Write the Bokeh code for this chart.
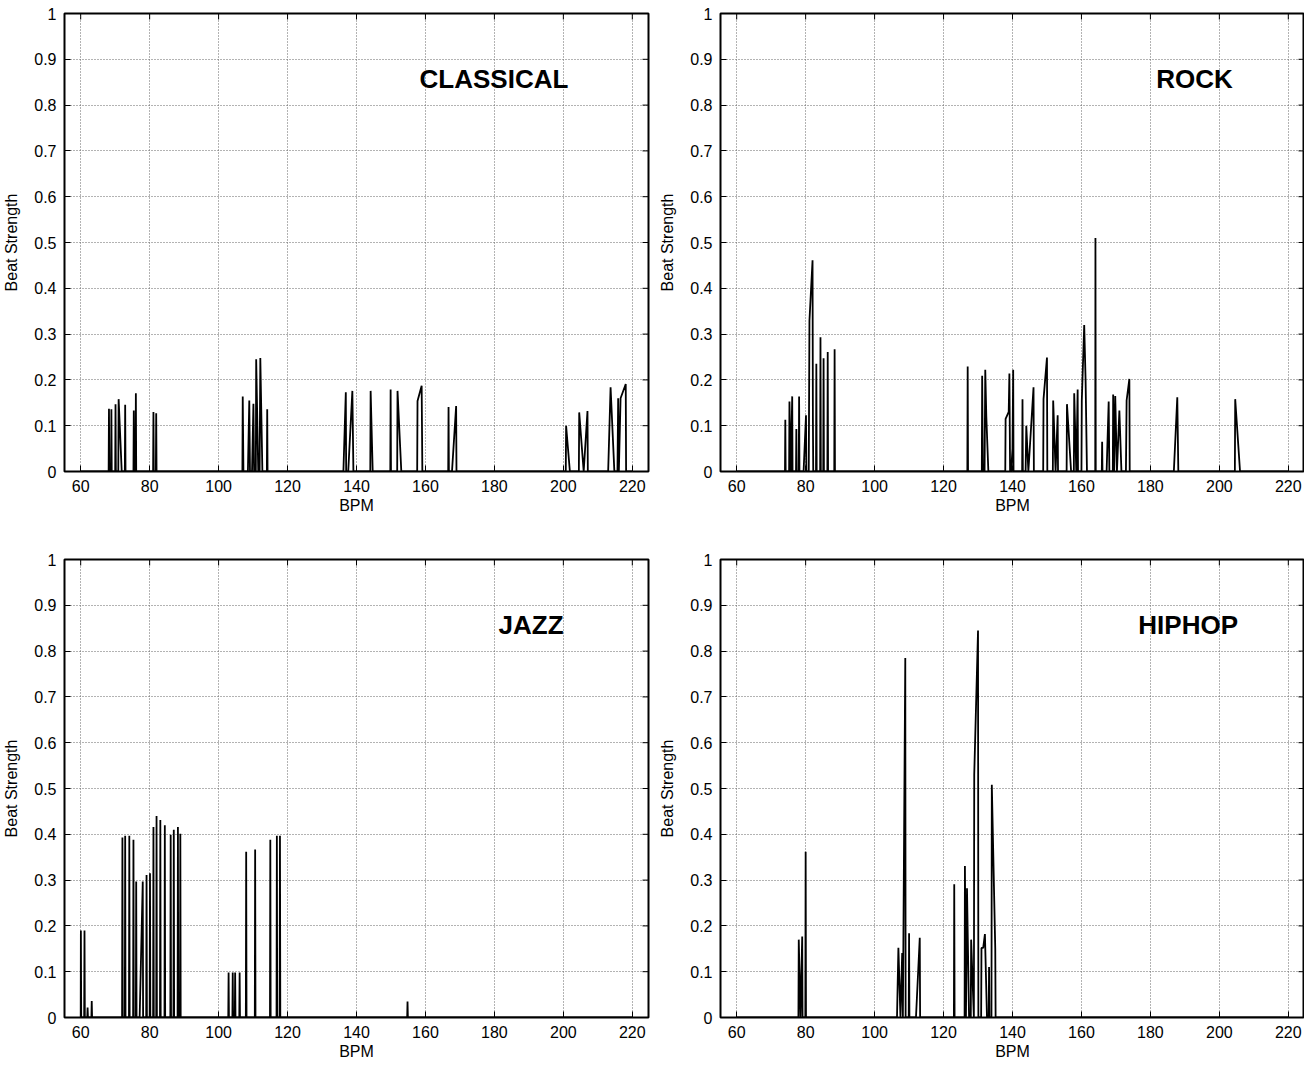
import math
from bokeh.plotting import figure
from bokeh.layouts import row, column
from bokeh.models import FixedTicker, Label, Range1d
from bokeh.embed import file_html
from bokeh.resources import INLINE

# ---------------- data ----------------
bpm_ticks = [60, 80, 100, 120, 140, 160, 180, 200, 220]
strength_ticks = [0.0, 0.1, 0.2, 0.3, 0.4, 0.5, 0.6, 0.7, 0.8, 0.9, 1.0]
strength_tick_labels = ["0", "0.1", "0.2", "0.3", "0.4", "0.5", "0.6", "0.7", "0.8", "0.9", "1"]

genres = ["CLASSICAL", "ROCK", "JAZZ", "HIPHOP"]

classical_bpm = [
    60.0,
    68.1, 68.2, 68.3, 68.8, 68.9, 69.0, 70.0, 70.1, 70.2, 70.9, 71.0, 71.9,
    72.8, 72.9, 73.0, 75.3, 75.4, 75.5, 75.9, 76.0, 76.1,
    81.0, 81.1, 81.2, 81.8, 81.9, 82.0,
    106.9, 107.0, 107.2, 108.5, 108.9, 109.1, 109.7, 110.1, 110.3,
    110.8, 110.9, 111.5, 111.9, 112.1, 112.7, 114.0, 114.1, 114.2,
    136.2, 136.9, 137.0, 137.6, 138.8, 139.1, 144.0, 144.1, 144.7,
    149.8, 149.9, 150.0, 151.8, 151.9, 153.0, 157.6, 157.7, 158.9, 159.1,
    166.6, 166.7, 166.8, 167.7, 168.9, 169.0,
    200.7, 200.8, 201.9, 204.5, 204.6, 205.9, 207.0, 207.1,
    213.0, 213.7, 214.8, 215.7, 215.9, 216.1, 216.6, 218.1, 218.2,
    220.0,
]
classical_strength = [
    0.0,
    0.0, 0.137, 0.0, 0.0, 0.136, 0.0, 0.0, 0.147, 0.0, 0.0, 0.158, 0.0,
    0.0, 0.146, 0.0, 0.0, 0.133, 0.0, 0.0, 0.171, 0.0,
    0.0, 0.130, 0.0, 0.0, 0.127, 0.0,
    0.0, 0.164, 0.0, 0.0, 0.155, 0.0, 0.0, 0.148, 0.0,
    0.0, 0.245, 0.0, 0.0, 0.248, 0.0, 0.0, 0.136, 0.0,
    0.0, 0.173, 0.0, 0.0, 0.176, 0.0, 0.0, 0.176, 0.0,
    0.0, 0.179, 0.0, 0.0, 0.176, 0.0, 0.0, 0.154, 0.187, 0.0,
    0.0, 0.141, 0.0, 0.0, 0.143, 0.0,
    0.0, 0.100, 0.0, 0.0, 0.129, 0.0, 0.132, 0.0,
    0.0, 0.184, 0.0, 0.0, 0.160, 0.0, 0.160, 0.191, 0.0,
    0.0,
]

rock_bpm = [
    60.0,
    74.0, 74.1, 74.2, 75.2, 75.3, 75.7, 76.1, 76.2, 77.2, 77.3, 77.4,
    78.0, 78.1, 78.2, 79.4, 80.1, 80.2, 80.9, 81.1, 82.0, 82.1, 82.2,
    83.0, 83.1, 83.2, 84.2, 84.3, 84.4, 85.1, 85.2, 85.3,
    86.3, 86.4, 86.5, 88.3, 88.4, 88.5,
    126.9, 127.0, 127.1, 131.1, 131.2, 131.4, 131.9, 132.1, 132.4, 133.0,
    137.9, 138.0, 138.9, 139.1, 139.3, 139.6, 140.0, 140.2, 140.3,
    142.8, 142.9, 143.0, 143.8, 144.0, 144.6, 146.1, 146.2,
    148.9, 149.0, 150.0, 150.1, 151.7, 151.8, 152.5, 153.1, 153.2,
    155.7, 155.8, 157.0, 157.8, 157.9, 158.5, 158.9, 159.0,
    160.0, 160.1, 160.8, 161.2, 161.6, 164.0, 164.06, 164.15,
    165.9, 166.0, 166.1, 167.3, 167.9, 168.1,
    169.1, 169.2, 169.5, 169.8, 170.3, 171.0, 171.6,
    172.9, 173.1, 173.9, 174.0, 186.8, 187.8, 188.1, 204.5, 204.6, 206.0,
    220.0,
]
rock_strength = [
    0.0,
    0.0, 0.113, 0.0, 0.0, 0.153, 0.0, 0.164, 0.0, 0.0, 0.093, 0.0,
    0.0, 0.164, 0.0, 0.0, 0.123, 0.0, 0.0, 0.329, 0.461, 0.120, 0.0,
    0.0, 0.235, 0.0, 0.0, 0.293, 0.0, 0.0, 0.247, 0.0,
    0.0, 0.261, 0.0, 0.0, 0.267, 0.0,
    0.0, 0.229, 0.0, 0.0, 0.209, 0.0, 0.0, 0.222, 0.121, 0.0,
    0.0, 0.115, 0.130, 0.214, 0.0, 0.0, 0.050, 0.222, 0.0,
    0.0, 0.158, 0.0, 0.0, 0.100, 0.0, 0.184, 0.0,
    0.0, 0.158, 0.249, 0.0, 0.0, 0.155, 0.0, 0.123, 0.0,
    0.0, 0.147, 0.0, 0.0, 0.171, 0.0, 0.179, 0.0,
    0.0, 0.154, 0.320, 0.200, 0.0, 0.0, 0.510, 0.0,
    0.0, 0.065, 0.0, 0.0, 0.153, 0.0,
    0.0, 0.168, 0.0, 0.165, 0.0, 0.133, 0.0,
    0.0, 0.155, 0.202, 0.0, 0.0, 0.162, 0.0, 0.0, 0.158, 0.0,
    0.0,
]

jazz_bpm = [
    60.0, 60.05, 60.15, 61.0, 61.1, 61.2, 61.9, 62.0, 62.1, 63.1, 63.2, 63.3,
    72.0, 72.1, 72.2, 72.8, 72.9, 73.0, 74.0, 74.1, 74.2, 75.2, 75.3, 75.4,
    76.0, 76.1, 76.2, 77.1, 78.0, 78.1, 79.0, 79.1, 79.2, 80.0, 80.1, 80.2,
    81.0, 81.1, 81.2, 81.9, 82.0, 82.1, 83.0, 83.1, 83.2, 84.3, 84.4, 84.5,
    86.0, 86.1, 86.2, 86.9, 87.0, 87.1, 88.1, 88.2, 88.3, 88.8, 88.9, 89.0,
    102.8, 102.9, 103.0, 104.0, 104.1, 104.2, 104.7, 104.8, 104.9, 106.0, 106.1, 106.2,
    107.9, 108.0, 108.1, 110.5, 110.6, 110.7,
    114.9, 115.0, 115.1, 116.8, 116.9, 117.0, 117.7, 117.8, 117.9,
    154.7, 154.8, 154.9,
    220.0,
]
jazz_strength = [
    0.0, 0.190, 0.0, 0.0, 0.190, 0.0, 0.0, 0.022, 0.0, 0.0, 0.036, 0.0,
    0.0, 0.393, 0.0, 0.0, 0.397, 0.0, 0.0, 0.397, 0.0, 0.0, 0.388, 0.0,
    0.0, 0.297, 0.0, 0.0, 0.297, 0.0, 0.0, 0.311, 0.0, 0.0, 0.315, 0.0,
    0.0, 0.416, 0.0, 0.0, 0.440, 0.0, 0.0, 0.431, 0.0, 0.0, 0.420, 0.0,
    0.0, 0.399, 0.0, 0.0, 0.410, 0.0, 0.0, 0.416, 0.0, 0.0, 0.401, 0.0,
    0.0, 0.098, 0.0, 0.0, 0.098, 0.0, 0.0, 0.098, 0.0, 0.0, 0.098, 0.0,
    0.0, 0.362, 0.0, 0.0, 0.367, 0.0,
    0.0, 0.388, 0.0, 0.0, 0.397, 0.0, 0.0, 0.397, 0.0,
    0.0, 0.035, 0.0,
    0.0,
]

hiphop_bpm = [
    60.0,
    77.9, 78.0, 78.5, 79.0, 79.1, 79.9, 80.0, 80.1,
    106.5, 106.9, 107.5, 108.0, 108.2, 108.9, 109.0, 109.9, 110.0, 110.1,
    112.0, 113.1, 113.2, 123.0, 123.1, 123.2,
    126.1, 126.2, 126.5, 126.8, 127.4, 127.9, 128.0, 128.8, 128.9, 130.0, 130.1,
    130.9, 131.0, 131.5, 132.0, 132.6, 133.1, 133.2, 133.3,
    133.9, 134.0, 135.0, 135.1,
    220.0,
]
hiphop_strength = [
    0.0,
    0.0, 0.170, 0.0, 0.177, 0.0, 0.0, 0.362, 0.0,
    0.0, 0.152, 0.0, 0.141, 0.0, 0.785, 0.0, 0.0, 0.184, 0.0,
    0.0, 0.174, 0.0, 0.0, 0.291, 0.0,
    0.0, 0.331, 0.0, 0.282, 0.0, 0.0, 0.170, 0.0, 0.530, 0.845, 0.0,
    0.0, 0.152, 0.152, 0.182, 0.0, 0.0, 0.110, 0.0,
    0.0, 0.508, 0.150, 0.0,
    0.0,
]

# ---------------- styling / layout ----------------
FONT = "Liberation Sans"
X_MIN, X_MAX = 55.3, 224.7
Y_MIN, Y_MAX = 0.0, 1.0


def style_axis(ax, ticker):
    ax.ticker = FixedTicker(ticks=ticker)
    ax.major_tick_in = 6
    ax.major_tick_out = 0
    ax.major_tick_line_color = "black"
    ax.major_tick_line_width = 1
    ax.minor_tick_line_color = None
    ax.axis_line_color = None
    ax.major_label_text_font = FONT
    ax.major_label_text_color = "black"
    ax.major_label_text_font_size = "16px"
    ax.axis_label_text_font = FONT
    ax.axis_label_text_font_style = "normal"
    ax.axis_label_text_color = "black"
    ax.axis_label_text_font_size = "16px"


def make_plot(xs, ys, title, title_x, fw, fh, left, right, top, bottom):
    p = figure(frame_width=fw, frame_height=fh,
               x_range=Range1d(X_MIN, X_MAX), y_range=Range1d(Y_MIN, Y_MAX),
               output_backend="svg", toolbar_location=None,
               min_border_left=left, min_border_right=right,
               min_border_top=top, min_border_bottom=bottom)
    p.background_fill_color = "white"
    p.border_fill_color = "white"
    p.outline_line_color = "black"
    p.outline_line_width = 2

    for g, tk in ((p.xgrid[0], bpm_ticks), (p.ygrid[0], strength_ticks)):
        g.ticker = FixedTicker(ticks=tk)
        g.grid_line_color = "#666666"
        g.grid_line_dash = "1 2"
        g.grid_line_width = 1

    p.line(xs, ys, line_color="black", line_width=1.8)

    # mirrored inward ticks on the top and right frame edges
    p.ray(x=bpm_ticks, y=[Y_MAX] * len(bpm_ticks), length=6, length_units="screen",
          angle=-math.pi / 2, line_color="black", line_width=1)
    p.ray(x=[X_MAX] * len(strength_ticks), y=strength_ticks, length=6, length_units="screen",
          angle=math.pi, line_color="black", line_width=1)

    xa = p.xaxis[0]
    style_axis(xa, bpm_ticks)
    xa.axis_label = "BPM"
    xa.major_label_standoff = 8
    xa.axis_label_standoff = 2

    ya = p.yaxis[0]
    style_axis(ya, strength_ticks)
    ya.axis_label = "Beat Strength"
    ya.major_label_standoff = 8
    ya.axis_label_standoff = 11
    ya.major_label_overrides = dict(zip(strength_ticks, strength_tick_labels))

    p.add_layout(Label(x=title_x, y=0.857, text=title, text_font=FONT,
                       text_font_size="26px", text_font_style="bold",
                       text_color="black", text_align="left",
                       text_baseline="middle"))
    return p


p1 = make_plot(classical_bpm, classical_strength, genres[0], 158.3, 584, 458, 63, 4, 13, 52)
p2 = make_plot(rock_bpm, rock_strength, genres[1], 181.7, 584, 458, 68, 0, 13, 52)
p3 = make_plot(jazz_bpm, jazz_strength, genres[2], 181.2, 584, 458, 63, 4, 36, 46)
p4 = make_plot(hiphop_bpm, hiphop_strength, genres[3], 176.5, 584, 458, 68, 0, 36, 46)

layout = column(row(p1, p2), row(p3, p4))

open("out.html", "w").write(file_html(layout, INLINE))
